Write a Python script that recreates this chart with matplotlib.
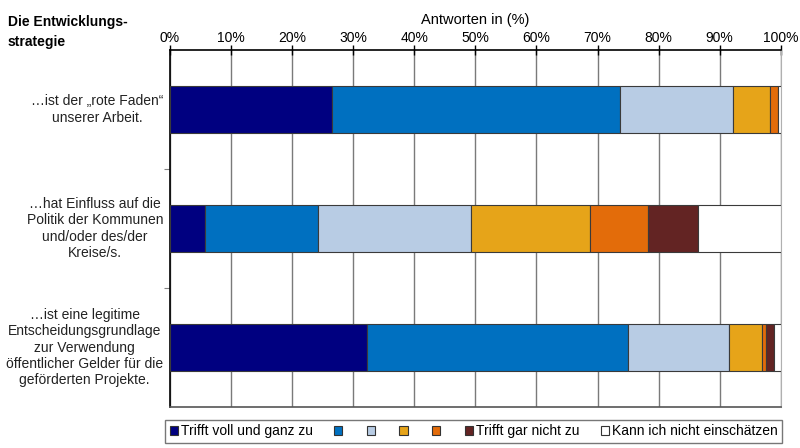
import matplotlib.pyplot as plt
from matplotlib.patches import Patch

categories = [
    "…ist der „rote Faden“\nunserer Arbeit.",
    "…hat Einfluss auf die\nPolitik der Kommunen\nund/oder des/der\nKreise/s.",
    "…ist eine legitime\nEntscheidungsgrundlage\nzur Verwendung\nöffentlicher Gelder für die\ngeförderten Projekte.",
]
legend_labels = ["Trifft voll und ganz zu", "", "", "", "", "Trifft gar nicht zu",
                 "Kann ich nicht einschätzen"]
colors = ["#000080", "#0070C0", "#B8CCE4", "#E6A419", "#E36C0A", "#632423", "#FFFFFF"]

# Anteile je Antwortstufe, eine Liste pro Aussage (in %)
row_rote_faden = [26.5, 47.1, 18.6, 6.0, 1.4, 0.0, 0.4]
row_einfluss = [5.7, 18.5, 25.1, 19.4, 9.6, 8.1, 13.6]
row_legitim = [32.2, 42.8, 16.6, 5.3, 0.7, 1.3, 1.1]
rows = [row_rote_faden, row_einfluss, row_legitim]

xticks = list(range(0, 101, 10))
xticklabels = [f"{t}%" for t in xticks]

plt.rcParams["font.family"] = ["Liberation Sans", "DejaVu Sans"]

fig = plt.figure(figsize=(8, 4.48), dpi=100)
ax = fig.add_axes([0.2125, 0.0915, 0.7635, 0.7965])

ypos = [0.5, 1.5, 2.5]
for y, vals in zip(ypos, rows):
    left = 0
    for v, c in zip(vals, colors):
        if v > 0:
            ax.barh(y, v, left=left, height=0.39, color=c, edgecolor="#3a3a3a",
                    linewidth=0.8, zorder=3)
        left += v

ax.set_xlim(0, 100)
ax.set_ylim(3, 0)
ax.xaxis.tick_top()
ax.xaxis.set_label_position("top")
ax.set_xticks(xticks)
ax.set_xticklabels(xticklabels, fontsize=10)
ax.tick_params(axis="x", direction="inout", length=7, width=1, pad=0.5, color="black")
ax.set_xlabel("Antworten in (%)", fontsize=10.5, labelpad=5)
ax.grid(axis="x", color="#7a7a7a", linewidth=1, zorder=0)

# Trennstriche zwischen den Aussagen
ax.set_yticks([1, 2])
ax.set_yticklabels([])
ax.tick_params(axis="y", direction="out", length=4, color="#808080")

for y, label in zip(ypos, categories):
    ax.text(-0.011, 1 - y / 3, label, transform=ax.transAxes, ha="right",
            va="center", multialignment="center", fontsize=10, color="#222222",
            linespacing=1.22)

ax.spines["top"].set_linewidth(1.2)
ax.spines["left"].set_linewidth(1.2)
ax.spines["right"].set_color("#b0b0b0")
ax.spines["bottom"].set_color("#555555")
ax.spines["bottom"].set_linewidth(1.2)

fig.text(0.01, 0.951, "Die Entwicklungs-", fontsize=10, fontweight="bold", va="center")
fig.text(0.01, 0.906, "strategie", fontsize=10, fontweight="bold", va="center")

handles = [Patch(facecolor=c, edgecolor="#333333", linewidth=0.8) for c in colors]
leg = fig.legend(handles, legend_labels, loc="center", bbox_to_anchor=(0.592, 0.037),
                 ncol=7, fontsize=10, frameon=True, fancybox=False,
                 handlelength=0.6, handleheight=0.6, handletextpad=0.2,
                 columnspacing=1.55, borderpad=0.3, edgecolor="#555555")
leg.get_frame().set_linewidth(1.0)

fig.savefig("out.png", dpi=100)
